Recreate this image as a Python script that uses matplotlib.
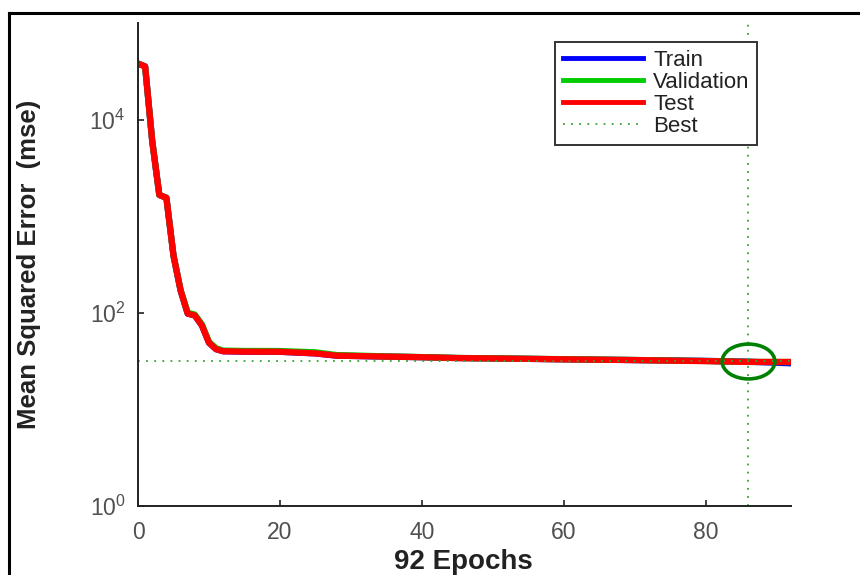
import numpy as np
import matplotlib
matplotlib.use("Agg")
import matplotlib.pyplot as plt
from matplotlib.path import Path
from matplotlib.transforms import Affine2D
from matplotlib.lines import Line2D

plt.rcParams["font.family"] = ["Liberation Sans", "DejaVu Sans"]
plt.rcParams["mathtext.default"] = "regular"

# Performance data
epochs = [0, 1, 2, 3, 4, 5, 6, 7, 8, 9, 10, 11, 12, 15, 20, 25, 28, 35, 40, 45, 50, 60, 70, 80, 86, 92]
train_mse = [38000, 35500, 6000, 1660, 1550, 390, 170, 98, 94, 74, 49, 42, 40, 39.6, 39.5, 38, 36,
             35.2, 34.7, 34, 33.7, 33, 32.4, 31.8, 31.2, 30.0]
val_mse = [38000, 35500, 6000, 1660, 1550, 390, 172, 100, 96, 76, 50, 43, 40.6, 40.3, 40.2, 39.0, 36.5,
           35.4, 34.8, 34.1, 33.8, 33.1, 32.5, 31.7, 31.0, 30.9]
test_mse = [38000, 35500, 6000, 1660, 1550, 390, 170, 98, 94, 74, 49, 42, 40, 39.6, 39.5, 38, 36,
            35.2, 34.7, 34, 33.7, 33, 32.4, 31.6, 31.0, 31.0]
best_epoch = 86
best_mse = 31.5
n_epochs = 92

fig = plt.figure(figsize=(8.6, 5.75), dpi=100)
ax = fig.add_axes([0.1605, 0.12, 0.759, 0.84])

ax.plot(epochs, train_mse, color="blue", lw=4.5, label="Train")
ax.plot(epochs, val_mse, color=(0, 0.8, 0), lw=4.5, label="Validation")
ax.plot(epochs, test_mse, color="red", lw=4.5, label="Test")
ax.axhline(best_mse, color=(0.2, 0.65, 0.2), ls=(0, (1, 3.5)), lw=1.3, label="Best")
ax.axvline(best_epoch, color=(0.2, 0.65, 0.2), ls=(0, (1, 3.5)), lw=1.3)

# elliptical marker for best point
circ = Path.unit_circle().transformed(Affine2D().scale(1.0, 0.66))
ax.plot([best_epoch], [best_mse], marker=circ, ms=38, mfc="none", mec=(0, 0.5, 0), mew=2.6, ls="none")

ax.set_yscale("log")
ax.set_xlim(0, n_epochs)
ax.set_ylim(1, 1e5)
ax.set_xticks([0, 20, 40, 60, 80])
ax.set_yticks([1, 1e2, 1e4])
ax.set_yticklabels([r"$10^{0}$", r"$10^{2}$", r"$10^{4}$"])
ax.yaxis.set_minor_locator(matplotlib.ticker.NullLocator())

for s in ["top", "right"]:
    ax.spines[s].set_visible(False)
for s in ["left", "bottom"]:
    ax.spines[s].set_linewidth(1.4)
    ax.spines[s].set_color("#222222")
ax.tick_params(direction="in", length=4, width=1.2, color="#222222",
               labelsize=16.5, labelcolor="#505050")
ax.tick_params(axis="x", pad=11)
ax.tick_params(axis="y", pad=9)

ax.set_xlabel("92 Epochs", fontsize=20, fontweight="bold", color="#222222")
ax.set_ylabel("Mean Squared Error  (mse)", fontsize=18.5, fontweight="bold", color="#222222")
ax.xaxis.set_label_coords(0.498, -0.088)
ax.yaxis.set_label_coords(-0.148, 0.5)

handles = [Line2D([], [], color="blue", lw=3.5),
           Line2D([], [], color=(0, 0.8, 0), lw=3.5),
           Line2D([], [], color="red", lw=3.5),
           Line2D([], [], color=(0.2, 0.65, 0.2), ls=(0, (1, 3.5)), lw=1.3)]
leg = ax.legend(handles, ["Train", "Validation", "Test", "Best"], loc="upper right",
                bbox_to_anchor=(0.949, 0.961), borderaxespad=0, fontsize=16,
                fancybox=False, framealpha=1, edgecolor="#333333",
                handlelength=3.6, handletextpad=0.45, labelspacing=0.05,
                borderpad=0.35)
leg.get_frame().set_linewidth(1.4)
for t in leg.get_texts():
    t.set_color("#222222")

# outer frame of the figure (only top and left edges visible)
fig.add_artist(Line2D([9 / 860, 1], [1 - 13 / 575, 1 - 13 / 575], color="black", lw=2.2,
                      transform=fig.transFigure))
fig.add_artist(Line2D([9 / 860, 9 / 860], [0, 1 - 13 / 575], color="black", lw=2.2,
                      transform=fig.transFigure))

fig.savefig("out.png", dpi=100)
